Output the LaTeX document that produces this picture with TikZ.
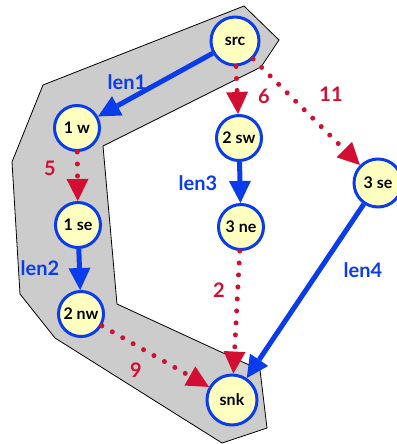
\documentclass[tikz,border=0pt]{standalone}
\usepackage{fontspec}
\setmainfont{Lato}
\usetikzlibrary{arrows.meta}
\definecolor{pathblue}{RGB}{10,60,235}
\definecolor{pathred}{RGB}{210,15,50}
\definecolor{vtxfill}{RGB}{255,255,192}
\definecolor{bandgray}{RGB}{204,204,204}

\begin{document}
\begin{tikzpicture}[x=1pt,y=-1pt,font=\bfseries\fontsize{16}{16}\selectfont,
  vtx/.style={circle,draw=pathblue,line width=3pt,fill=vtxfill,minimum size=45pt,inner sep=0pt},
  lenedge/.style={pathblue,line width=5pt,-{Triangle[length=22pt,width=22pt,line width=0pt]}},
  wedge/.style={pathred,line width=5pt,line cap=round,dash pattern=on 0pt off 12pt,-{Triangle[length=22pt,width=22pt,line width=0pt]}},
  lenlab/.style={text=pathblue,font=\bfseries\fontsize{20}{20}\selectfont},
  wlab/.style={text=pathred,font=\bfseries\fontsize{20}{20}\selectfont}]
  \useasboundingbox (0,0) rectangle (396,444);
  % shaded band round the chosen path
  \draw[fill=bandgray,line width=0.8pt] (244,6) -- (279,40) -- (261,67) -- (103,146) -- (117,304)
    -- (260,370) -- (267,428) -- (222,443) -- (55,338) -- (20,294) -- (12,162) -- (43,85) -- cycle;
  % vertices
  \node[vtx,minimum size=48pt] (src) at (235,41) {src};
  \node[vtx] (w1) at (77,128) {1 w};
  \node[vtx] (se1) at (78,225) {1 se};
  \node[vtx] (nw2) at (81,314) {2 nw};
  \node[vtx] (sw2) at (239,138) {2 sw};
  \node[vtx] (ne3) at (241,227) {3 ne};
  \node[vtx,minimum size=48pt] (se3) at (378,183) {3 se};
  \node[vtx,minimum size=50pt] (snk) at (232,400) {snk};
  % edges
  \draw[lenedge] (src) -- (w1);
  \draw[wedge] (w1) -- (se1);
  \draw[lenedge] (se1) -- (nw2);
  \draw[wedge] (nw2) -- (snk);
  \draw[wedge] (src) -- (sw2);
  \draw[wedge] (src) -- (se3);
  \draw[lenedge] (sw2) -- (ne3);
  \draw[wedge] (ne3) -- (snk);
  \draw[lenedge] (se3) -- (snk);
  % edge labels
  \node[lenlab] (len1) at (127,82) {len1};
  \node[wlab] (w5) at (50,168) {5};
  \node[lenlab] (len2) at (40,268) {len2};
  \node[wlab] (w9) at (136,370) {9};
  \node[wlab] (w6) at (264,96) {6};
  \node[wlab] (w11) at (331,94) {11};
  \node[lenlab] (len3) at (198,183) {len3};
  \node[wlab] (w2) at (219,290) {2};
  \node[lenlab] (len4) at (363,270) {len4};
\end{tikzpicture}
\end{document}
